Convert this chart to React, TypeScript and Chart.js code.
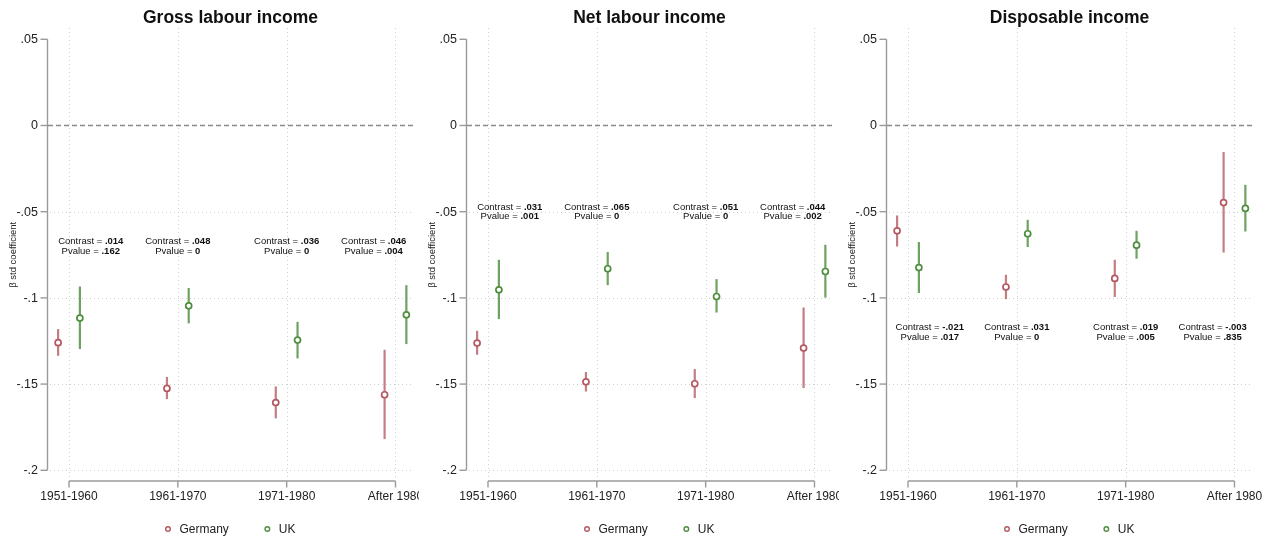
import React, { useEffect, useRef } from "react";
import { Chart, registerables } from "chart.js";
Chart.register(...registerables);

// ---------- data ----------
const categories = ["1951-1960", "1961-1970", "1971-1980", "After 1980"];
const panelTitles = ["Gross labour income", "Net labour income", "Disposable income"];
const seriesNames = ["Germany", "UK"];
const yTicks = [0.05, 0, -0.05, -0.1, -0.15, -0.2];
const yTickLabels = [".05", "0", "-.05", "-.1", "-.15", "-.2"];
const yAxisTitle = "β std coefficient";

const grossGermany = [-0.126, -0.1525, -0.1607, -0.1562];
const grossGermanyLo = [-0.1336, -0.1587, -0.1699, -0.1819];
const grossGermanyHi = [-0.1181, -0.1459, -0.1514, -0.1301];
const grossUK = [-0.1117, -0.1046, -0.1245, -0.1098];
const grossUKLo = [-0.1297, -0.1148, -0.1351, -0.1268];
const grossUKHi = [-0.0934, -0.0943, -0.1139, -0.0926];
const grossContrast = [".014", ".048", ".036", ".046"];
const grossPvalue = [".162", "0", "0", ".004"];
const grossAnnotLevel = -0.07;

const netGermany = [-0.1262, -0.1487, -0.1498, -0.1291];
const netGermanyLo = [-0.133, -0.1543, -0.1581, -0.1523];
const netGermanyHi = [-0.1191, -0.143, -0.1413, -0.1056];
const netUK = [-0.0953, -0.0831, -0.0992, -0.0847];
const netUKLo = [-0.1123, -0.0926, -0.1085, -0.0998];
const netUKHi = [-0.0779, -0.0734, -0.0891, -0.0692];
const netContrast = [".031", ".065", ".051", ".044"];
const netPvalue = [".001", "0", "0", ".002"];
const netAnnotLevel = -0.05;

const dispGermany = [-0.0611, -0.0937, -0.0887, -0.0447];
const dispGermanyLo = [-0.0702, -0.1007, -0.0995, -0.0737];
const dispGermanyHi = [-0.0522, -0.0866, -0.0779, -0.0154];
const dispUK = [-0.0824, -0.0628, -0.0694, -0.0481];
const dispUKLo = [-0.0972, -0.0705, -0.0773, -0.0615];
const dispUKHi = [-0.0676, -0.0547, -0.0611, -0.0344];
const dispContrast = ["-.021", ".031", ".019", "-.003"];
const dispPvalue = [".017", "0", ".005", ".835"];
const dispAnnotLevel = -0.12;

// ---------- layout / style ----------
const annotX = [1.2, 2, 3, 3.8];
const OFFSET = 0.1;
const RED = "rgb(181,88,98)";
const RED_BAR = "rgba(181,88,98,0.78)";
const GREEN = "rgb(78,142,62)";
const GREEN_BAR = "rgba(78,142,62,0.82)";
const FONT = "'Liberation Sans', Arial, Helvetica, sans-serif";

const panels = [
  {
    title: panelTitles[0], left: 0, width: 419,
    g: grossGermany, gLo: grossGermanyLo, gHi: grossGermanyHi,
    u: grossUK, uLo: grossUKLo, uHi: grossUKHi,
    contrast: grossContrast, pvalue: grossPvalue, level: grossAnnotLevel,
  },
  {
    title: panelTitles[1], left: 419, width: 420,
    g: netGermany, gLo: netGermanyLo, gHi: netGermanyHi,
    u: netUK, uLo: netUKLo, uHi: netUKHi,
    contrast: netContrast, pvalue: netPvalue, level: netAnnotLevel,
  },
  {
    title: panelTitles[2], left: 839, width: 434,
    g: dispGermany, gLo: dispGermanyLo, gHi: dispGermanyHi,
    u: dispUK, uLo: dispUKLo, uHi: dispUKHi,
    contrast: dispContrast, pvalue: dispPvalue, level: dispAnnotLevel,
  },
];

type PanelDef = (typeof panels)[number];

function makePlugin(p: PanelDef) {
  return {
    id: "stataPanel",
    beforeDatasetsDraw(chart: any) {
      const ctx = chart.ctx as CanvasRenderingContext2D;
      const x = chart.scales.x;
      const y = chart.scales.y;
      const a = chart.chartArea;
      ctx.save();
      // gridlines
      ctx.strokeStyle = "#cfcfcf";
      ctx.lineWidth = 1;
      ctx.setLineDash([1, 3]);
      categories.forEach((_, i) => {
        const px = Math.round(x.getPixelForValue(i + 1)) + 0.5;
        ctx.beginPath();
        ctx.moveTo(px, a.top);
        ctx.lineTo(px, a.bottom);
        ctx.stroke();
      });
      yTicks.forEach((t) => {
        if (t === 0.05 || t === 0) return;
        const py = Math.round(y.getPixelForValue(t)) + 0.5;
        ctx.beginPath();
        ctx.moveTo(a.left + 2, py);
        ctx.lineTo(a.right, py);
        ctx.stroke();
      });
      // zero reference line
      ctx.strokeStyle = "#8a8a8a";
      ctx.lineWidth = 1.6;
      ctx.setLineDash([5, 3]);
      const zy = y.getPixelForValue(0);
      ctx.beginPath();
      ctx.moveTo(a.left, zy);
      ctx.lineTo(a.right + 3, zy);
      ctx.stroke();
      ctx.setLineDash([]);
      // error bars
      const bars = [
        { lo: p.gLo, hi: p.gHi, off: -OFFSET, c: RED_BAR },
        { lo: p.uLo, hi: p.uHi, off: OFFSET, c: GREEN_BAR },
      ];
      bars.forEach((b) => {
        ctx.strokeStyle = b.c;
        ctx.lineWidth = 2.2;
        b.lo.forEach((lo, i) => {
          const px = x.getPixelForValue(i + 1 + b.off);
          ctx.beginPath();
          ctx.moveTo(px, y.getPixelForValue(lo));
          ctx.lineTo(px, y.getPixelForValue(b.hi[i]));
          ctx.stroke();
        });
      });
      ctx.restore();
    },
    afterDraw(chart: any) {
      const ctx = chart.ctx as CanvasRenderingContext2D;
      const x = chart.scales.x;
      const y = chart.scales.y;
      const a = chart.chartArea;
      ctx.save();
      const axisX = a.left - 0.5;
      // y axis
      ctx.strokeStyle = "#9a9a9a";
      ctx.lineWidth = 1.4;
      ctx.beginPath();
      ctx.moveTo(axisX, y.getPixelForValue(0.05));
      ctx.lineTo(axisX, y.getPixelForValue(-0.2));
      ctx.stroke();
      ctx.fillStyle = "#222";
      ctx.font = `12.5px ${FONT}`;
      ctx.textAlign = "right";
      ctx.textBaseline = "middle";
      yTicks.forEach((t, i) => {
        const py = y.getPixelForValue(t);
        ctx.beginPath();
        ctx.moveTo(axisX - 7, py);
        ctx.lineTo(axisX, py);
        ctx.stroke();
        ctx.fillText(yTickLabels[i], axisX - 9.5, py + 0.5);
      });
      // y axis title
      ctx.save();
      ctx.translate(axisX - 34.5, (y.getPixelForValue(0.05) + y.getPixelForValue(-0.2)) / 2);
      ctx.rotate(-Math.PI / 2);
      ctx.textAlign = "center";
      ctx.textBaseline = "middle";
      ctx.font = `9.5px ${FONT}`;
      ctx.fillText(yAxisTitle, 0, 0);
      ctx.restore();
      // x axis
      const axisY = a.bottom + 4;
      ctx.beginPath();
      ctx.moveTo(x.getPixelForValue(1), axisY);
      ctx.lineTo(x.getPixelForValue(categories.length), axisY);
      ctx.stroke();
      ctx.font = `12px ${FONT}`;
      ctx.textAlign = "center";
      categories.forEach((c, i) => {
        const px = x.getPixelForValue(i + 1);
        ctx.beginPath();
        ctx.moveTo(px, axisY);
        ctx.lineTo(px, axisY + 6.5);
        ctx.stroke();
        ctx.fillText(c, px, axisY + 16);
      });
      // title
      const cx = (a.left + a.right) / 2;
      ctx.fillStyle = "#111";
      ctx.font = `bold 17.5px ${FONT}`;
      ctx.textBaseline = "alphabetic";
      ctx.fillText(p.title, cx, 22.7);
      // annotations
      const normal = `9.5px ${FONT}`;
      const bold = `bold 9.5px ${FONT}`;
      const drawMixed = (lead: string, val: string, px: number, py: number) => {
        ctx.font = normal;
        const w1 = ctx.measureText(lead).width;
        ctx.font = bold;
        const w2 = ctx.measureText(val).width;
        const start = px - (w1 + w2) / 2;
        ctx.textAlign = "left";
        ctx.font = normal;
        ctx.fillText(lead, start, py);
        ctx.font = bold;
        ctx.fillText(val, start + w1, py);
      };
      ctx.fillStyle = "#111";
      ctx.textBaseline = "middle";
      const ly = y.getPixelForValue(p.level);
      p.contrast.forEach((c, i) => {
        const px = x.getPixelForValue(annotX[i]);
        drawMixed("Contrast = ", c, px, ly - 4.6);
        drawMixed("Pvalue = ", p.pvalue[i], px, ly + 5.0);
      });
      // legend
      ctx.font = `12px ${FONT}`;
      const tw0 = ctx.measureText(seriesNames[0]).width;
      const tw1 = ctx.measureText(seriesNames[1]).width;
      const total = 14 + tw0 + 36 + 14 + tw1;
      let sx = cx - total / 2;
      const legY = 529;
      const legItems = [
        { name: seriesNames[0], c: RED, w: tw0 },
        { name: seriesNames[1], c: GREEN, w: tw1 },
      ];
      legItems.forEach((it) => {
        ctx.strokeStyle = it.c;
        ctx.fillStyle = "#fff";
        ctx.lineWidth = 1.4;
        ctx.beginPath();
        ctx.arc(sx + 2.5, legY, 2.3, 0, Math.PI * 2);
        ctx.fill();
        ctx.stroke();
        ctx.fillStyle = "#222";
        ctx.textAlign = "left";
        ctx.textBaseline = "middle";
        ctx.fillText(it.name, sx + 14, legY + 0.5);
        sx += 14 + it.w + 36;
      });
      ctx.restore();
    },
  };
}

function Panel({ p }: { p: PanelDef }) {
  const ref = useRef<HTMLCanvasElement | null>(null);
  useEffect(() => {
    if (!ref.current) return;
    const chart = new Chart(ref.current, {
      type: "scatter",
      data: {
        datasets: [
          {
            label: seriesNames[0],
            data: p.g.map((v, i) => ({ x: i + 1 - OFFSET, y: v })),
            pointRadius: 3,
            pointBorderWidth: 1.7,
            pointBorderColor: RED,
            pointBackgroundColor: "#fff",
          },
          {
            label: seriesNames[1],
            data: p.u.map((v, i) => ({ x: i + 1 + OFFSET, y: v })),
            pointRadius: 3,
            pointBorderWidth: 1.7,
            pointBorderColor: GREEN,
            pointBackgroundColor: "#fff",
          },
        ],
      },
      options: {
        animation: false,
        responsive: false,
        events: [],
        layout: { padding: { left: 48, right: p.width - 413, top: 28, bottom: 65 } },
        scales: {
          x: { type: "linear", min: 0.807, max: 4.161, display: false },
          y: { type: "linear", min: -0.2039, max: 0.05655, display: false },
        },
        plugins: { legend: { display: false }, tooltip: { enabled: false } },
      },
      plugins: [makePlugin(p)],
    } as any);
    return () => chart.destroy();
  }, [p]);
  return (
    <canvas
      ref={ref}
      width={p.width}
      height={542}
      style={{ position: "absolute", left: p.left, top: 0, width: p.width, height: 542 }}
    />
  );
}

export default function App() {
  return (
    <div style={{ position: "absolute", left: 0, top: 0, width: 1273, height: 542, background: "#fff" }}>
      {panels.map((p, i) => (
        <Panel key={i} p={p} />
      ))}
    </div>
  );
}
